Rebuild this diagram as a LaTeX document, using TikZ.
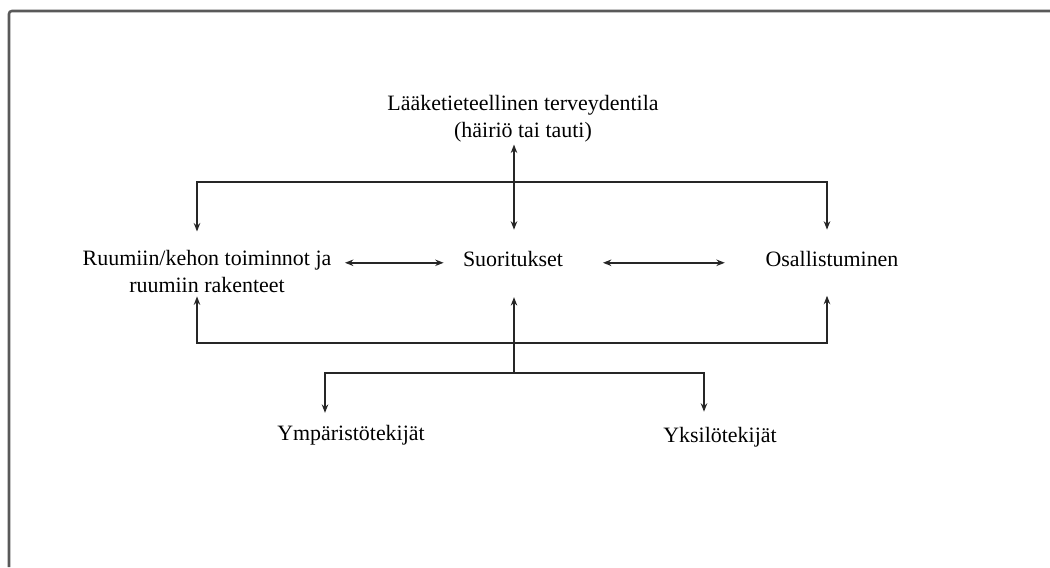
\documentclass[tikz,border=0pt]{standalone}
\usepackage{fontspec}
\setmainfont{Liberation Serif}
\usetikzlibrary{positioning, arrows.meta, calc}

\begin{document}
\begin{tikzpicture}[
  x=0.025cm, y=-0.025cm,
  txt/.style={inner sep=0pt, outer sep=0pt, align=center,
              font=\fontsize{15.6}{19.2}\selectfont},
  arr/.style={-{Stealth[length=6pt, width=4.6pt]}, line width=1.2pt, color=black!85},
  dbl/.style={{Stealth[length=6pt, width=4.6pt]}-{Stealth[length=6pt, width=4.6pt]},
              line width=1.2pt, color=black!85},
  frame/.style={line width=1.8pt, color=black!65},
]
\useasboundingbox (0,0) rectangle (1050,567);

% --- Frame (top and left edges only) ---
\draw[frame, rounded corners=2pt] (9,567) -- (9,11) -- (1050,11);

% --- Nodes ---
\node[txt] (med) at (523,119) {Lääketieteellinen terveydentila\\(häiriö tai tauti)};
\node[txt, anchor=base] (suor) at (513,266) {Suoritukset};
\node[txt] (ruum) at (207,271) {Ruumiin/kehon toiminnot ja\\ruumiin rakenteet};
\node[txt, anchor=base] (osal) at (832,266) {Osallistuminen};
\node[txt, anchor=base] (ymp) at (351,440) {Ympäristötekijät};
\node[txt, anchor=base] (yks) at (720,442) {Yksilötekijät};

% --- Bracket corners ---
\coordinate (tl) at (197,182);
\coordinate (tr) at (827,182);
\coordinate (bl) at (197,343);
\coordinate (br) at (827,343);
\coordinate (sp) at (514,373);
\coordinate (yl) at (325,373);
\coordinate (yr) at (704,373);

% --- Connectors ---
\draw[dbl, shorten <=1.5pt, shorten >=15pt] (sp |- med.south) -- (sp |- suor.north);
\draw[dbl, shorten <=13pt, shorten >=15pt] (tl |- ruum.north) -- (tl) -- (tr) -- (tr |- osal.north);
\draw[dbl, shorten <=3pt, shorten >=21pt] (bl |- ruum.south) -- (bl) -- (br) -- (br |- osal.south);
\draw[dbl, shorten <=9.7pt, shorten >=13.8pt] (ruum.east |- suor.mid) -- (suor.mid west);
\draw[dbl, shorten <=28.4pt, shorten >=29pt] (suor.mid east) -- (osal.mid west);
\draw[arr, shorten >=22pt] (sp) -- (sp |- suor.south);
\draw[dbl, shorten <=8.5pt, shorten >=10.7pt] (yl |- ymp.north) -- (yl) -- (yr) -- (yr |- yks.north);

\end{tikzpicture}
\end{document}
